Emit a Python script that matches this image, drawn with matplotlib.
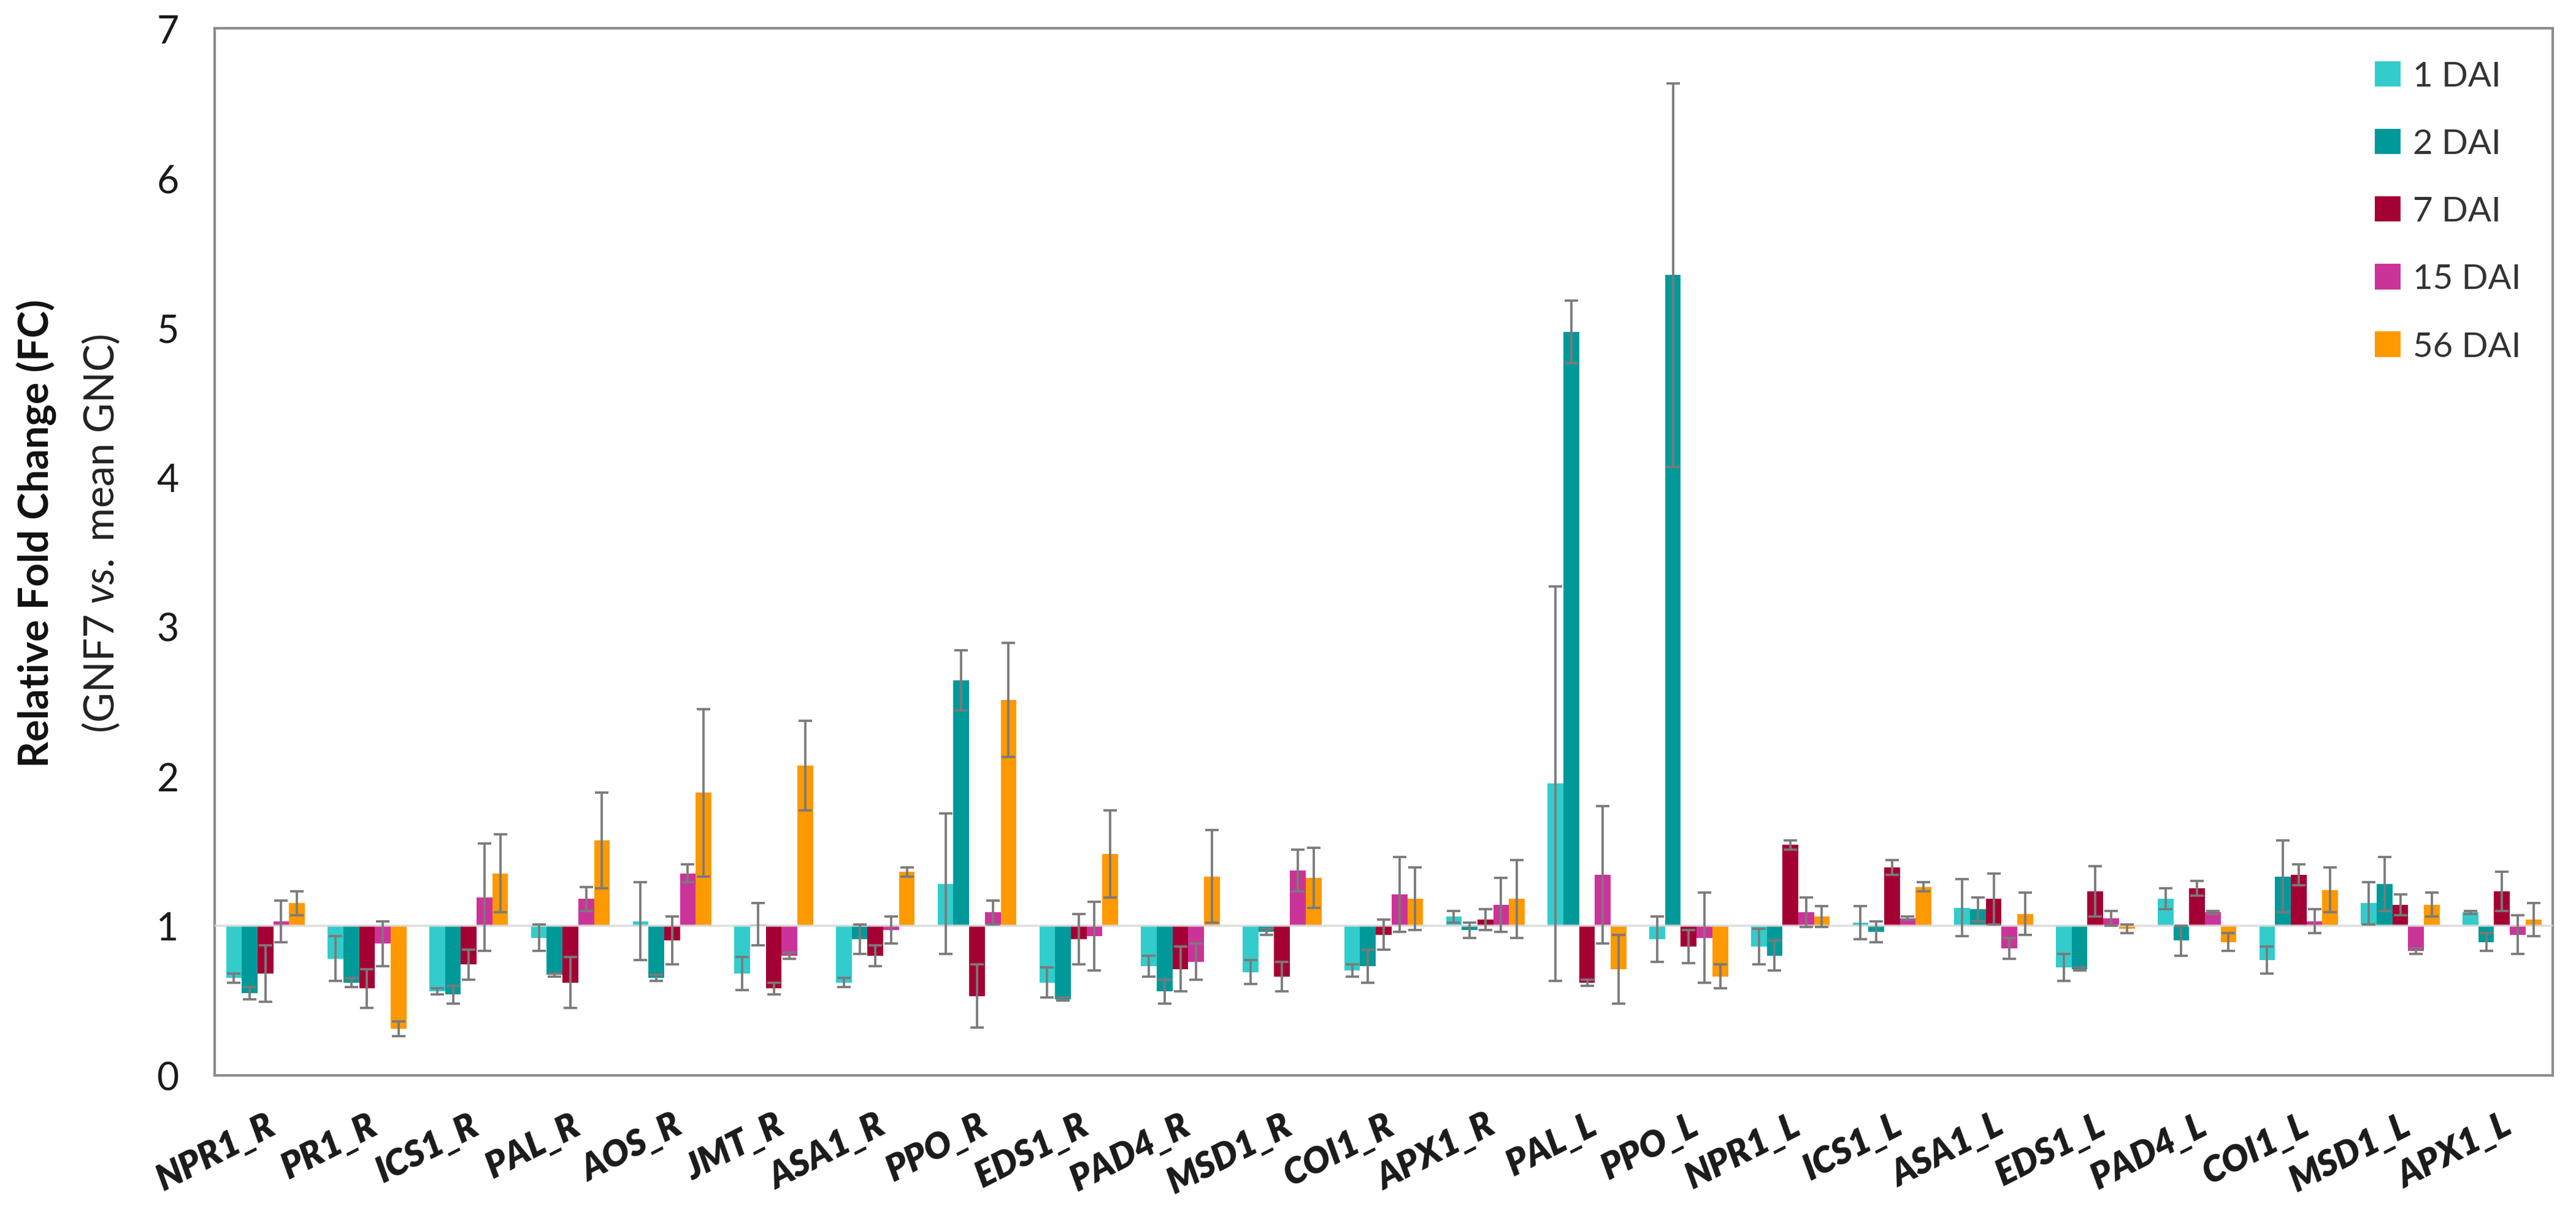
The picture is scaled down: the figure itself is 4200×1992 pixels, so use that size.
import numpy as np
import matplotlib
matplotlib.use("Agg")
import matplotlib.pyplot as plt

plt.rcParams['font.family'] = ['Lato', 'DejaVu Sans']
plt.rcParams['mathtext.fontset'] = 'custom'
plt.rcParams['mathtext.it'] = 'Lato:italic'
plt.rcParams['mathtext.rm'] = 'Lato'

genes = ["NPR1_R", "PR1_R", "ICS1_R", "PAL_R", "AOS_R", "JMT_R", "ASA1_R", "PPO_R",
         "EDS1_R", "PAD4_R", "MSD1_R", "COI1_R", "APX1_R", "PAL_L", "PPO_L", "NPR1_L",
         "ICS1_L", "ASA1_L", "EDS1_L", "PAD4_L", "COI1_L", "MSD1_L", "APX1_L"]

series_names = ["1 DAI", "2 DAI", "7 DAI", "15 DAI", "56 DAI"]

dai1 = [0.65, 0.78, 0.56, 0.92, 1.03, 0.68, 0.62, 1.28, 0.62, 0.73, 0.69, 0.70,
        1.06, 1.95, 0.91, 0.86, 1.02, 1.12, 0.72, 1.18, 0.77, 1.15, 1.09]
err1 = [0.03, 0.15, 0.02, 0.09, 0.26, 0.11, 0.03, 0.47, 0.10, 0.07, 0.08, 0.04,
        0.04, 1.32, 0.15, 0.12, 0.11, 0.19, 0.09, 0.07, 0.09, 0.14, 0.01]

dai2 = [0.55, 0.62, 0.54, 0.67, 0.65, 1.01, 0.91, 2.64, 0.51, 0.56, 0.96, 0.73,
        0.97, 4.97, 5.35, 0.80, 0.96, 1.11, 0.71, 0.90, 1.33, 1.28, 0.89]
err2 = [0.04, 0.03, 0.06, 0.01, 0.02, 0.14, 0.10, 0.20, 0.01, 0.08, 0.02, 0.11,
        0.05, 0.21, 1.28, 0.10, 0.07, 0.08, 0.01, 0.10, 0.24, 0.18, 0.06]

dai7 = [0.68, 0.58, 0.74, 0.62, 0.90, 0.58, 0.80, 0.53, 0.91, 0.71, 0.66, 0.94,
        1.04, 0.62, 0.86, 1.54, 1.39, 1.18, 1.23, 1.25, 1.34, 1.14, 1.23]
err7 = [0.19, 0.13, 0.10, 0.17, 0.16, 0.04, 0.07, 0.21, 0.17, 0.15, 0.10, 0.10,
        0.07, 0.02, 0.11, 0.03, 0.05, 0.17, 0.17, 0.05, 0.07, 0.07, 0.13]

dai15 = [1.03, 0.88, 1.19, 1.18, 1.35, 0.80, 0.97, 1.09, 0.93, 0.76, 1.37, 1.21,
         1.14, 1.34, 0.92, 1.09, 1.05, 0.85, 1.05, 1.09, 1.03, 0.83, 0.94]
err15 = [0.14, 0.15, 0.36, 0.08, 0.06, 0.02, 0.09, 0.08, 0.23, 0.12, 0.14, 0.25,
         0.18, 0.46, 0.30, 0.10, 0.01, 0.07, 0.05, 0.01, 0.08, 0.02, 0.13]

dai56 = [1.15, 0.31, 1.35, 1.57, 1.89, 2.07, 1.36, 2.51, 1.48, 1.33, 1.32, 1.18,
         1.18, 0.71, 0.66, 1.06, 1.26, 1.08, 0.98, 0.89, 1.24, 1.14, 1.04]
err56 = [0.08, 0.05, 0.26, 0.32, 0.56, 0.30, 0.03, 0.38, 0.29, 0.31, 0.20, 0.21,
         0.26, 0.23, 0.08, 0.07, 0.03, 0.14, 0.03, 0.06, 0.15, 0.08, 0.11]

colors = ["#33CCCC", "#009999", "#A50034", "#CC3399", "#FF9900"]

values = [dai1, dai2, dai7, dai15, dai56]
errors = [err1, err2, err7, err15, err56]

fig = plt.figure(figsize=(14, 6.643), dpi=300)
ax = fig.add_axes([0.0833, 0.12, 0.9077, 0.8564])

x = np.arange(len(genes))
w = 0.155
for i, (vals, errs) in enumerate(zip(values, errors)):
    v = np.array(vals)
    pos = x + (i - 2) * w
    ax.bar(pos, v - 1, bottom=1, width=w, color=colors[i], label=series_names[i],
           zorder=2, linewidth=0)
    ax.errorbar(pos, v, yerr=errs, fmt='none', ecolor='#7a7a7a', elinewidth=0.9,
                capsize=2.6, capthick=0.9, zorder=4)

# reference line at FC = 1
ax.axhline(1, color='#d9d9d9', lw=0.9, alpha=0.8, zorder=3)

ax.set_xlim(-0.5, len(genes) - 0.5)
ax.set_ylim(0, 7)
ax.set_yticks(range(8))
ax.set_xticks(x)
ax.set_xticklabels(genes, rotation=27, ha='right', rotation_mode='anchor',
                   fontsize=14, fontweight='heavy', fontstyle='italic')
ax.tick_params(axis='both', length=0, colors='#1a1a1a')
ax.tick_params(axis='y', labelsize=15, pad=14)
ax.tick_params(axis='x', pad=13)

for s in ax.spines.values():
    s.set_color('#8c8c8c')
    s.set_linewidth(1.0)

fig.text(0.0143, 0.5635, "Relative Fold Change (FC)", rotation=90, ha='center',
         va='center', fontsize=16, fontweight='bold', color='#111111')
fig.text(0.0393, 0.5635, r"(GNF7 $\it{vs.}$ mean GNC)", rotation=90, ha='center',
         va='center', fontsize=16, color='#222222')

leg = ax.legend(loc='upper left', bbox_to_anchor=(0.918, 0.982), frameon=False,
                fontsize=13.5, handlelength=0.75, handleheight=0.75, handletextpad=0.35,
                labelspacing=1.05, borderaxespad=0)
for t in leg.get_texts():
    t.set_color('#333333')

fig.savefig("out.png", dpi=300)
